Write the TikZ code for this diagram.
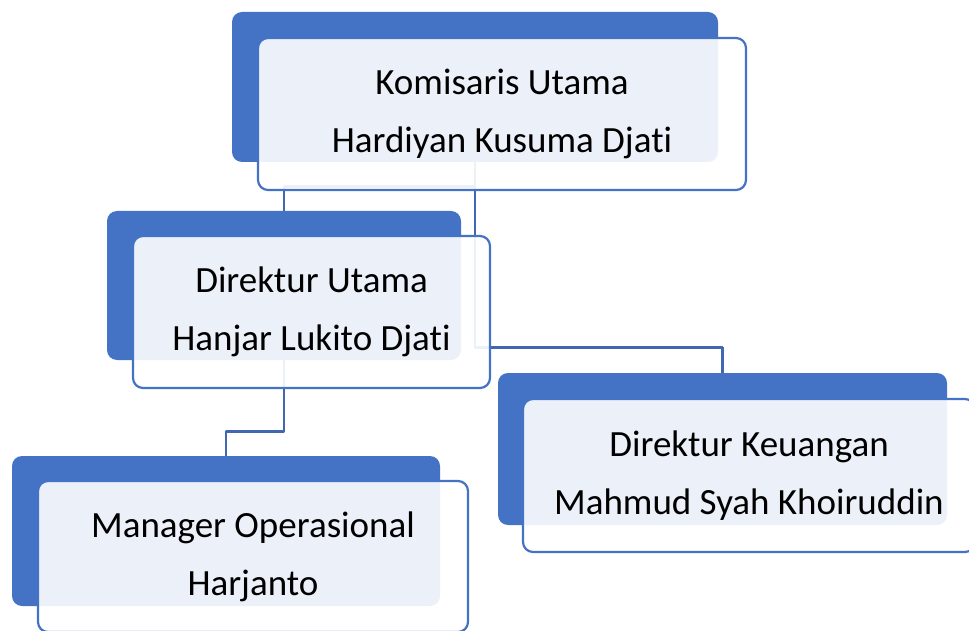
\documentclass[tikz,border=0pt]{standalone}
\usepackage{fontspec}
\setmainfont{Carlito}[Ligatures=NoCommon]
\definecolor{boxblue}{HTML}{4472C4}
\definecolor{linkblue}{HTML}{4267B2}
\tikzset{
	backbox/.style={fill=boxblue, rounded corners=10pt, inner sep=0pt},
	frontbox/.style={draw=boxblue, line width=2.2pt, fill=white, fill opacity=0.9, text opacity=1, rounded corners=10pt, align=center, inner sep=0pt},
	conn/.style={draw=linkblue, line width=2.7pt}
}
\begin{document}
\begin{tikzpicture}[x=1pt, y=1pt, font=\fontsize{37}{58}\selectfont, line join=round]
	\useasboundingbox (0,0) rectangle (969,630);
	% back shapes
	\node[backbox, minimum width=486pt, minimum height=150pt] (komB) at (475,543) {};
	\node[backbox, minimum width=354pt, minimum height=149pt] (duB) at (284,344.5) {};
	\node[backbox, minimum width=428pt, minimum height=150pt] (mgrB) at (226,99) {};
	\node[backbox, minimum width=449pt, minimum height=152pt] (keuB) at (722.5,181) {};
	% connectors
	\draw[conn] (komB.south) |- ([yshift=24pt]duB.north) -- (duB.north);
	\draw[conn] (komB.south) |- ([yshift=25pt]keuB.north) -- (keuB.north);
	\draw[conn] (duB.south) |- ([yshift=24pt]mgrB.north) -- (mgrB.north);
	% front shapes with text
	\node[frontbox, minimum width=488pt, minimum height=152pt] (kom) at (502,516) {Komisaris Utama\\Hardiyan Kusuma Djati};
	\node[frontbox, minimum width=357pt, minimum height=152pt] (du) at (311.5,318) {Direktur Utama\\Hanjar Lukito Djati};
	\node[frontbox, minimum width=430pt, minimum height=151pt] (mgr) at (253,73.5) {Manager Operasional\\Harjanto};
	\node[frontbox, minimum width=452pt, minimum height=153pt] (keu) at (749,154.5) {Direktur Keuangan\\Mahmud Syah Khoiruddin};
\end{tikzpicture}
\end{document}
